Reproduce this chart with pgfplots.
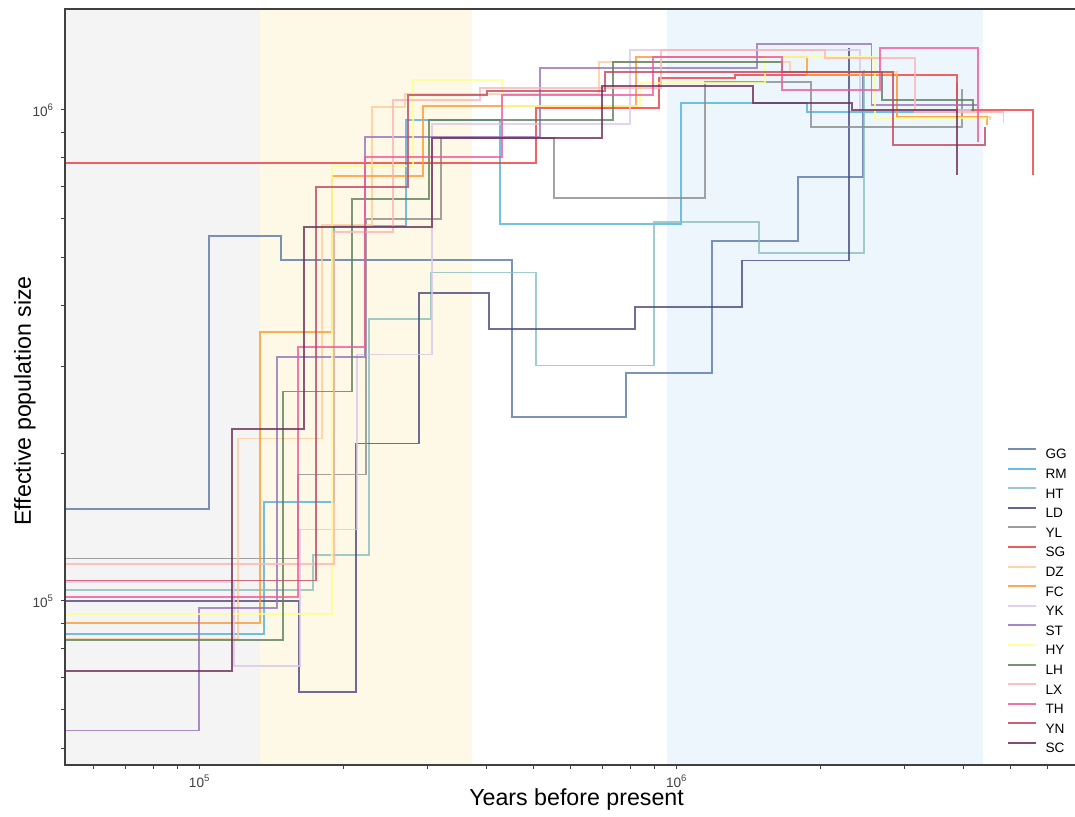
\documentclass[border=0pt]{standalone}
\usepackage{pgfplots}
\pgfplotsset{compat=1.18}
\usepackage{fontspec}
\setmainfont{Liberation Sans}
\definecolor{cGG}{HTML}{5A78A8}
\definecolor{cRM}{HTML}{4FB0E0}
\definecolor{cHT}{HTML}{8ABFBF}
\definecolor{cLD}{HTML}{4A4A80}
\definecolor{cYL}{HTML}{8C8C8C}
\definecolor{cSG}{HTML}{F03C3C}
\definecolor{cDZ}{HTML}{FFCC99}
\definecolor{cFC}{HTML}{FF9933}
\definecolor{cYK}{HTML}{DCC8E6}
\definecolor{cST}{HTML}{9673BE}
\definecolor{cHY}{HTML}{FFFF8C}
\definecolor{cLH}{HTML}{5F7F5F}
\definecolor{cLX}{HTML}{FFB4B4}
\definecolor{cTH}{HTML}{F05A9B}
\definecolor{cYN}{HTML}{C0465F}
\definecolor{cSC}{HTML}{6E2E55}
\definecolor{bgGray}{HTML}{F4F4F4}
\definecolor{bgYel}{HTML}{FDF9E6}
\definecolor{bgBlue}{HTML}{EEF6FD}
\begin{document}
\begin{tikzpicture}
\path[use as bounding box] (-32.5pt,-26pt) rectangle (505pt,382.5pt);
\begin{axis}[
  at={(0,0)}, anchor=south west,
  scale only axis, width=505.5pt, height=378pt,
  axis on top,
  xmode=log, ymode=log,
  xmin=5.22e4, xmax=6.873e6, ymin=4.634e4, ymax=1.606e6,
  xtick={1e5,1e6}, xticklabels={10\textsuperscript{5},10\textsuperscript{6}},
  ytick={1e5,1e6}, yticklabels={10\textsuperscript{5},10\textsuperscript{6}},
  minor xtick={6e4,7e4,8e4,9e4,2e5,3e5,4e5,5e5,6e5,7e5,8e5,9e5,2e6,3e6,4e6,5e6,6e6},
  minor ytick={5e4,6e4,7e4,8e4,9e4,2e5,3e5,4e5,5e5,6e5,7e5,8e5,9e5},
  tick pos=left, tick align=outside,
  major tick length=2pt, minor tick length=2pt,
  every tick/.style={black!75, line width=0.5pt},
  axis line style={black!75, line width=0.7pt},
  tick label style={font=\fontsize{6.8}{8}\selectfont, text=black!75},
  x tick label style={yshift=0.7pt},
  xlabel={Years before present}, ylabel={Effective population size},
  label style={font=\fontsize{11.6}{14}\selectfont},
  x label style={at={(axis description cs:0.506,-0.046)}, anchor=center},
  y label style={at={(axis description cs:-0.0397,0.4815)}, anchor=center},
  legend style={draw=none, fill=none, at={(axis description cs:0.925,0.425)}, anchor=north west,
    font=\fontsize{6.8}{8}\selectfont, row sep=4.4pt,
    nodes={inner sep=0pt, text height=4.9pt, text depth=0pt},
    /tikz/every odd column/.append style={column sep=4.5pt}},
  legend cell align=left,
  legend image code/.code={\draw[#1, line width=1pt, opacity=0.85] (0pt,2.45pt) -- (14pt,2.45pt);},
  every axis plot/.append style={line width=0.7pt, opacity=0.8},
]
\addplot[draw=none, fill=bgGray, opacity=1, forget plot] coordinates {(4e4,3e4) (1.338e5,3e4) (1.338e5,2e6) (4e4,2e6) (4e4,3e4)};
\addplot[draw=none, fill=bgYel, opacity=1, forget plot] coordinates {(1.338e5,3e4) (3.723e5,3e4) (3.723e5,2e6) (1.338e5,2e6) (1.338e5,3e4)};
\addplot[draw=none, fill=bgBlue, opacity=1, forget plot] coordinates {(9.54e5,3e4) (4.387e6,3e4) (4.387e6,2e6) (9.54e5,2e6) (9.54e5,3e4)};

\addplot[const plot, cGG] coordinates {(5e4,1.54e5) (1.046e5,5.54e5) (1.481e5,4.95e5) (4.515e5,2.37e5) (7.830e5,2.91e5) (1.186e6,5.41e5) (1.796e6,7.30e5) (2.458e6,1.195e6)};
\addlegendentry{GG}
\addplot[const plot, cRM] coordinates {(5e4,8.57e4) (1.364e5,1.59e5) (1.912e5,5.80e5) (2.707e5,9.54e5) (4.262e5,5.86e5) (1.021e6,1.033e6) (1.876e6,9.91e5) (3.870e6,1.135e6)};
\addlegendentry{RM}
\addplot[const plot, cHT] coordinates {(5e4,1.053e5) (1.728e5,1.24e5) (2.264e5,3.75e5) (3.054e5,4.66e5) (5.070e5,3.02e5) (8.964e5,5.91e5) (1.488e6,5.11e5) (2.470e6,1.206e6)};
\addlegendentry{HT}
\addplot[const plot, cLD] coordinates {(5e4,1e5) (1.615e5,6.53e4) (2.127e5,2.09e5) (2.883e5,4.24e5) (4.042e5,3.58e5) (8.178e5,3.97e5) (1.371e6,4.93e5) (2.297e6,1.337e6)};
\addlegendentry{LD}
\addplot[const plot, cYL] coordinates {(5e4,1.22e5) (1.607e5,1.81e5) (2.232e5,6.00e5) (3.206e5,8.77e5) (5.532e5,6.62e5) (1.146e6,1.140e6) (1.912e6,9.23e5) (3.964e6,1.103e6)};
\addlegendentry{YL}
\addplot[const plot, cSG] coordinates {(5e4,7.80e5) (5.070e5,1.009e6) (9.182e5,1.162e6) (1.325e6,1.178e6) (3.870e6,1.0e6) (5.585e6,7.37e5)};
\addlegendentry{SG}
\addplot[const plot, cDZ] coordinates {(5e4,8.37e4) (1.203e5,2.14e5) (1.804e5,5.83e5) (2.297e5,1.014e6) (2.694e5,1.078e6) (6.873e5,1.252e6) (1.728e6,1.195e6) (2.896e6,9.68e5) (4.538e6,9.54e5)};
\addlegendentry{DZ}
\addplot[const plot, cFC] coordinates {(5e4,9.02e4) (1.338e5,3.53e5) (1.894e5,7.34e5) (2.939e5,1.019e6) (8.218e5,1.282e6) (1.876e6,1.178e6) (2.896e6,9.68e5) (4.473e6,9.32e5)};
\addlegendentry{FC}
\addplot[const plot, cYK] coordinates {(5e4,1.093e5) (1.180e5,7.37e4) (1.623e5,1.40e5) (2.137e5,3.18e5) (3.069e5,9.36e5) (7.983e5,1.325e6) (2.423e6,1.0e6) (4.120e6,9.91e5)};
\addlegendentry{YK}
\addplot[const plot, cST] coordinates {(5e4,5.44e4) (9.97e4,9.68e4) (1.453e5,3.14e5) (2.221e5,8.81e5) (5.169e5,1.218e6) (1.474e6,1.363e6) (2.558e6,1.024e6) (4.262e6,1.024e6)};
\addlegendentry{ST}
\addplot[const plot, cHY] coordinates {(5e4,9.41e4) (1.894e5,7.69e5) (2.800e5,1.151e6) (4.303e5,1.019e6) (8.378e5,1.135e6) (1.532e6,1.282e6) (2.605e6,9.63e5) (4.473e6,9.63e5)};
\addlegendentry{HY}
\addplot[const plot, cLH] coordinates {(5e4,8.33e4) (1.495e5,2.67e5) (2.086e5,6.59e5) (3.024e5,9.54e5) (7.354e5,1.252e6) (1.663e6,1.195e6) (2.695e6,1.048e6) (4.181e6,9.91e5)};
\addlegendentry{LH}
\addplot[const plot, cLX] coordinates {(5e4,1.19e5) (1.912e5,5.64e5) (2.542e5,1.048e6) (3.869e5,1.109e6) (9.271e5,1.325e6) (2.046e6,1.276e6) (3.159e6,9.91e5) (4.838e6,9.41e5)};
\addlegendentry{LX}
\addplot[const plot, cTH] coordinates {(5e4,1.019e5) (1.607e5,3.29e5) (2.221e5,8.02e5) (4.303e5,1.073e6) (8.920e5,1.282e6) (1.663e6,1.098e6) (2.669e6,1.337e6) (4.283e6,8.61e5)};
\addlegendentry{TH}
\addplot[const plot, cYN] coordinates {(5e4,1.10e5) (1.753e5,6.97e5) (2.733e5,1.073e6) (4.003e5,1.093e6) (7.075e5,1.195e6) (2.841e6,8.49e5) (4.430e6,9.23e5)};
\addlegendentry{YN}
\addplot[const plot, cSC] coordinates {(5e4,7.20e4) (1.169e5,2.24e5) (1.654e5,5.78e5) (3.069e5,8.77e5) (6.974e5,1.119e6) (1.445e6,1.033e6) (2.331e6,1.0e6) (3.870e6,7.37e5)};
\addlegendentry{SC}
\end{axis}
\end{tikzpicture}
\end{document}
